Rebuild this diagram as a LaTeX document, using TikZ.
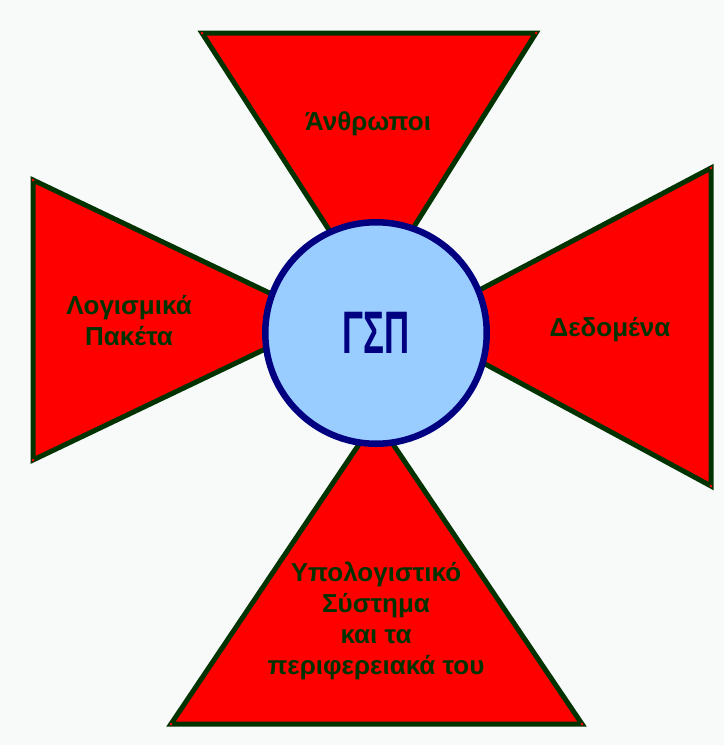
\documentclass[tikz,border=0pt]{standalone}
\usepackage{fontspec}
\setmainfont{Liberation Sans}
\definecolor{wingred}{RGB}{255,0,0}
\definecolor{edgegreen}{RGB}{0,51,0}
\definecolor{hubblue}{RGB}{153,204,255}
\definecolor{hubnavy}{RGB}{0,0,128}
\definecolor{pagebg}{RGB}{248,250,250}

\begin{document}
\begin{tikzpicture}[
    x=1pt, y=-1pt,
    wing/.style={fill=wingred, draw=edgegreen, line width=5pt},
    vertex/.style={fill=wingred},
    wingtext/.style={font=\bfseries\fontsize{26}{31}\selectfont, text=edgegreen, align=center, inner sep=0pt},
    hub/.style={circle, fill=hubblue, draw=hubnavy, line width=6.5pt, minimum size=221.5pt, inner sep=0pt,
        text=hubnavy, font=\bfseries\fontsize{60}{60}\selectfont}
]
\fill[pagebg] (0,0) rectangle (724,745);
\useasboundingbox (0,0) rectangle (724,745);

% the four wings
\draw[wing] (202,33) -- (536,33) -- (371,295) -- cycle;
\draw[wing] (33,180) -- (326,320) -- (33,460) -- cycle;
\draw[wing] (711,168) -- (711,486) -- (413,325) -- cycle;
\draw[wing] (171,724) -- (376,419) -- (582,724) -- cycle;
\foreach \p in {(202,33),(536,33),(33,180),(33,460),(711,168),(711,486),(171,724),(582,724)}
    \fill[vertex] \p circle (1.5);

% centre
\node[hub] (gsp) at (376,333) {\scalebox{0.58}[1]{ΓΣΠ}};

\node[wingtext] (anthropoi) at (368,124) {Άνθρωποι};
\node[wingtext] (logismika) at (129,321) {Λογισμικά\\Πακέτα};
\node[wingtext] (dedomena) at (610,330) {Δεδομένα};
\node[wingtext] (ypologistiko) at (376,621) {Υπολογιστικό\\Σύστημα\\και τα\\περιφερειακά του};
\end{tikzpicture}
\end{document}
